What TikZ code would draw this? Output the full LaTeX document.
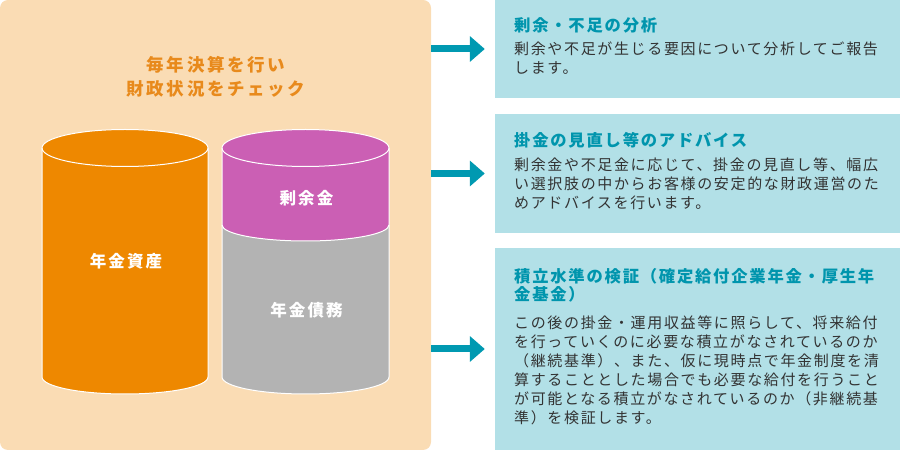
\documentclass[tikz,border=0pt]{standalone}
\usepackage{fontspec}
\setmainfont{Noto Sans CJK JP}
\usetikzlibrary{arrows.meta}
\definecolor{panelbg}{HTML}{FADCB4}
\definecolor{cylorange}{HTML}{EE8800}
\definecolor{cylmag}{HTML}{CB5FB4}
\definecolor{cylgray}{HTML}{B3B3B3}
\definecolor{arrteal}{HTML}{0099B1}
\definecolor{boxbg}{HTML}{B2E0E7}
\definecolor{boxtitle}{HTML}{0095AD}
\definecolor{bodytext}{HTML}{333333}
\definecolor{lefttitle}{HTML}{E88A1C}
\begin{document}
\begin{tikzpicture}[x=1pt,y=1pt,
  infobox/.style={fill=boxbg,draw=none,inner sep=0pt,minimum width=405pt},
  arr/.style={draw=arrteal,line width=7pt,-{Triangle[width=25pt,length=15pt]}},
  btitle/.style={anchor=base west,inner sep=0pt,align=left,text=boxtitle,
    font={\fontsize{16.3}{18}\selectfont\bfseries\addfontfeatures{LetterSpace=11}}},
  bbody/.style={anchor=base west,inner sep=0pt,align=left,text=bodytext,
    font={\fontsize{15}{19}\selectfont\addfontfeatures{LetterSpace=11}}},
  cyllabel/.style={anchor=base,inner sep=0pt,text=white,
    font={\fontsize{16.5}{18}\selectfont\bfseries\addfontfeatures{LetterSpace=13}}},
  cyledge/.style={draw=white,line width=1pt}
]
\useasboundingbox (0,0) rectangle (900,450);
% left panel
\node[fill=panelbg,rounded corners=8pt,minimum width=431pt,minimum height=450pt,inner sep=0pt] (panel) at (215.5,225) {};
\node[anchor=base,inner sep=0pt,align=center,text=lefttitle,
  font={\fontsize{17.5}{24}\selectfont\bfseries\addfontfeatures{LetterSpace=15}}] (ltitle) at (216,354.5)
  {毎年決算を行い\\財政状況をチェック};
% left cylinder
\fill[cylorange] (42,302) -- (42,73) arc[start angle=180,end angle=360,x radius=83pt,y radius=17pt]
  -- (208,302) arc[start angle=0,end angle=180,x radius=83pt,y radius=18.5pt] -- cycle;
\draw[cyledge] (42,302) -- (42,73) arc[start angle=180,end angle=360,x radius=83pt,y radius=17pt]
  -- (208,302) arc[start angle=0,end angle=180,x radius=83pt,y radius=18.5pt];
\draw[cyledge] (42,302) arc[start angle=180,end angle=360,x radius=83pt,y radius=18.5pt];
% right cylinder
\fill[cylmag] (222,302) -- (222,225) arc[start angle=180,end angle=360,x radius=83.5pt,y radius=16pt]
  -- (389,302) arc[start angle=0,end angle=180,x radius=83.5pt,y radius=18.5pt] -- cycle;
\fill[cylgray] (222,225) -- (222,73) arc[start angle=180,end angle=360,x radius=83.5pt,y radius=17pt]
  -- (389,225) arc[start angle=360,end angle=180,x radius=83.5pt,y radius=16pt] -- cycle;
\draw[cyledge] (222,302) -- (222,73) arc[start angle=180,end angle=360,x radius=83.5pt,y radius=17pt]
  -- (389,302) arc[start angle=0,end angle=180,x radius=83.5pt,y radius=18.5pt];
\draw[cyledge] (222,302) arc[start angle=180,end angle=360,x radius=83.5pt,y radius=18.5pt];
\draw[cyledge] (222,225) arc[start angle=180,end angle=360,x radius=83.5pt,y radius=16pt];
\node[cyllabel] (asset) at (126,182) {年金資産};
\node[cyllabel] (surplus) at (306.5,245) {剰余金};
\node[cyllabel] (liab) at (306.5,133) {年金債務};
% right boxes
\node[infobox,minimum height=98pt] (b1) at (697.5,401) {};
\node[infobox,minimum height=119pt] (b2) at (697.5,276.5) {};
\node[infobox,minimum height=202pt] (b3) at (697.5,101) {};
% arrows
\draw[arr] (panel.east |- b1.west) -- ([xshift=-10pt]b1.west);
\draw[arr] (panel.east |- b2.west) -- ([xshift=-10pt]b2.west);
\draw[arr] (panel.east |- b3.west) -- ([xshift=-10pt]b3.west);
% texts (base anchor = last line baseline)
\node[btitle] (t1) at (514,418) {剰余・不足の分析};
\node[bbody] (d1) at (514,376) {剰余や不足が生じる要因について分析してご報告\\します。};
\node[btitle] (t2) at (514,303) {掛金の見直し等のアドバイス};
\node[bbody] (d2) at (514,241.5) {剰余金や不足金に応じて、掛金の見直し等、幅広\\い選択肢の中からお客様の安定的な財政運営のた\\めアドバイスを行います。};
\node[btitle] (t3) at (514,149) {積立水準の検証（確定給付企業年金・厚生年\\金基金）};
\node[bbody] (d3) at (514,26.5) {この後の掛金・運用収益等に照らして、将来給付\\を行っていくのに必要な積立がなされているのか\\（継続基準）、また、仮に現時点で年金制度を清\\算することとした場合でも必要な給付を行うこと\\が可能となる積立がなされているのか（非継続基\\準）を検証します。};
\end{tikzpicture}
\end{document}
